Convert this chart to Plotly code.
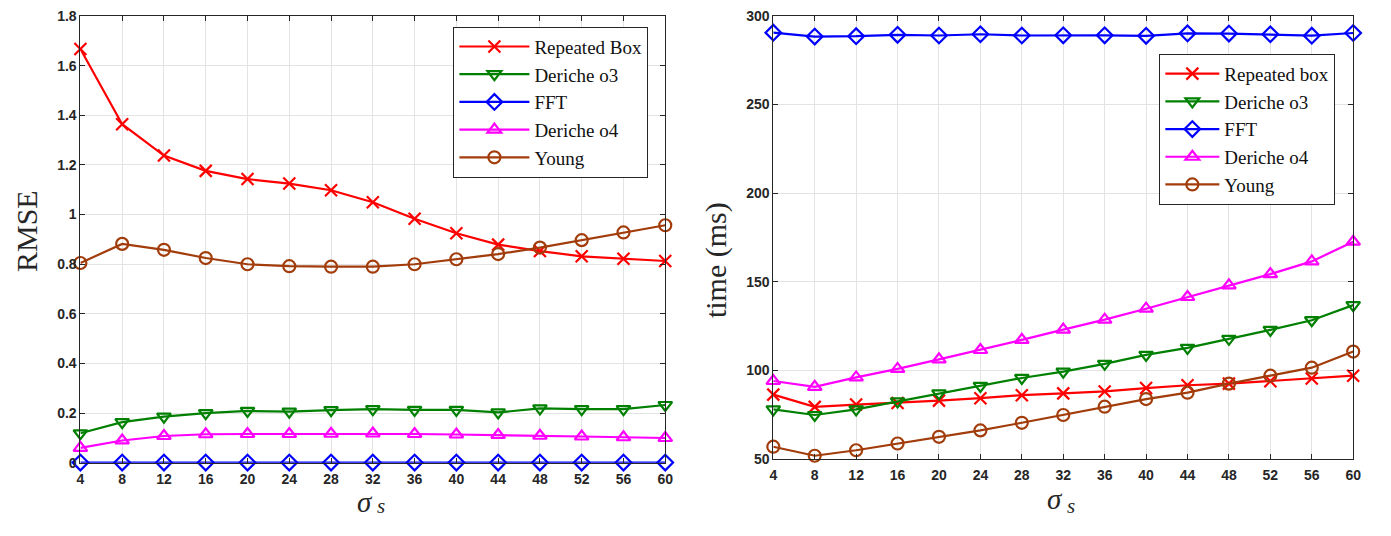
import plotly.graph_objects as go

sigma = [4, 8, 12, 16, 20, 24, 28, 32, 36, 40, 44, 48, 52, 56, 60]

# RMSE (left)
rmse_box = [1.667, 1.364, 1.238, 1.176, 1.143, 1.125, 1.098, 1.050, 0.983, 0.925, 0.879, 0.853, 0.832, 0.822, 0.813]
rmse_d3 = [0.119, 0.164, 0.186, 0.200, 0.209, 0.206, 0.212, 0.216, 0.213, 0.213, 0.203, 0.219, 0.216, 0.216, 0.233]
rmse_fft = [0.001] * 15
rmse_d4 = [0.060, 0.090, 0.108, 0.115, 0.116, 0.116, 0.117, 0.118, 0.116, 0.114, 0.112, 0.109, 0.106, 0.103, 0.100]
rmse_young = [0.805, 0.882, 0.858, 0.825, 0.800, 0.792, 0.790, 0.790, 0.800, 0.820, 0.841, 0.867, 0.897, 0.928, 0.957]

# time in ms (right)
t_box = [86.3, 79.4, 80.7, 81.6, 82.9, 84.3, 86.0, 87.0, 88.1, 90.0, 91.6, 92.5, 93.9, 95.4, 97.0]
t_d3 = [78.0, 74.8, 78.0, 82.5, 87.0, 91.2, 95.7, 99.3, 103.7, 108.7, 112.7, 117.8, 122.8, 128.3, 136.8]
t_fft = [290.6, 288.4, 288.6, 289.4, 289.0, 289.7, 289.0, 289.1, 289.1, 288.8, 290.2, 290.1, 289.7, 288.9, 290.4]
t_d4 = [94.0, 90.7, 96.0, 100.8, 106.2, 111.5, 117.2, 123.0, 128.6, 134.8, 141.4, 148.0, 154.3, 161.5, 172.6]
t_young = [56.9, 51.8, 54.9, 58.7, 62.5, 66.1, 70.4, 74.8, 79.5, 83.8, 87.4, 92.5, 97.0, 101.5, 110.6]

left_names = ["Repeated Box", "Deriche o3", "FFT", "Deriche o4", "Young"]
right_names = ["Repeated box", "Deriche o3", "FFT", "Deriche o4", "Young"]
left_yticks = [0, 0.2, 0.4, 0.6, 0.8, 1, 1.2, 1.4, 1.6, 1.8]
left_yticktext = ["0", "0.2", "0.4", "0.6", "0.8", "1", "1.2", "1.4", "1.6", "1.8"]
right_yticks = [50, 100, 150, 200, 250, 300]

colors = ["#ff0000", "#008000", "#0000ff", "#ff00ff", "#a23c0b"]
symbols = ["x-thin-open", "triangle-down-open", "diamond-open", "triangle-up-open", "circle-open"]
sizes = [12, 12, 12, 12, 12]

# The page body keeps its default 8px margin; size the figure so the page is exactly 1391x536
W, H, OFF = 1391 - 16, 536 - 16, 8


def px(X):
    return (X - OFF) / W


def py(Y):
    return 1 - (Y - OFF) / H


fig = go.Figure()
left_series = [rmse_box, rmse_d3, rmse_fft, rmse_d4, rmse_young]
right_series = [t_box, t_d3, t_fft, t_d4, t_young]

for i in range(5):
    fig.add_trace(go.Scatter(
        x=sigma, y=left_series[i], name=left_names[i], mode="lines+markers",
        line=dict(color=colors[i], width=2.2),
        marker=dict(symbol=symbols[i], size=sizes[i], color=colors[i], line=dict(color=colors[i], width=2.2)),
        xaxis="x", yaxis="y", legend="legend", cliponaxis=False))
for i in range(5):
    fig.add_trace(go.Scatter(
        x=sigma, y=right_series[i], name=right_names[i], mode="lines+markers",
        line=dict(color=colors[i], width=2.2),
        marker=dict(symbol=symbols[i], size=sizes[i], color=colors[i], line=dict(color=colors[i], width=2.2)),
        xaxis="x2", yaxis="y2", legend="legend2", cliponaxis=False))

axis_common = dict(
    showgrid=True, gridcolor="#e3e3e3", gridwidth=1,
    showline=True, linecolor="#262626", linewidth=1, mirror="ticks",
    ticks="inside", ticklen=5, tickcolor="#262626",
    tickfont=dict(family="Liberation Sans, Arial", size=14, color="#262626", weight="bold"),
    zeroline=False, ticklabeloverflow="allow",
)

legend_font = dict(family="Liberation Serif, DejaVu Serif", size=19, color="#111111")

fig.update_layout(
    width=W, height=H, autosize=False,
    margin=dict(l=0, r=0, t=0, b=0),
    plot_bgcolor="white", paper_bgcolor="white",
    xaxis=dict(domain=[px(77), px(667)], range=[4, 60], tickvals=sigma, anchor="y",
               ticklabelstandoff=3, **axis_common),
    yaxis=dict(domain=[py(469), 1], range=[0, 1.8], tickvals=left_yticks,
               ticktext=left_yticktext, anchor="x", **axis_common),
    xaxis2=dict(domain=[px(776), px(1361)], range=[4, 60], tickvals=sigma, anchor="y2",
                ticklabelstandoff=3, **axis_common),
    yaxis2=dict(domain=[py(465), 1], range=[50, 300], tickvals=right_yticks, anchor="x2", **axis_common),
    legend=dict(x=px(650), y=py(19), xanchor="right", yanchor="top",
                bgcolor="white", bordercolor="#262626", borderwidth=1,
                font=legend_font, tracegroupgap=0, itemwidth=70),
    legend2=dict(x=px(1343), y=py(47), xanchor="right", yanchor="top",
                 bgcolor="white", bordercolor="#262626", borderwidth=1,
                 font=legend_font, tracegroupgap=0, itemwidth=54),
    showlegend=True,
)

label_font = dict(family="Liberation Serif, DejaVu Serif", size=30, color="#262626")
sig_font = dict(family="Liberation Serif, DejaVu Serif", size=29, color="#262626")
sub_font = dict(family="Liberation Serif, DejaVu Serif", size=21, color="#262626")
fig.add_annotation(text="RMSE", x=px(22), y=py(230), xref="paper", yref="paper",
                   showarrow=False, textangle=-90, xanchor="center", yanchor="middle", font=label_font)
fig.add_annotation(text="time (ms)", x=px(718), y=py(260), xref="paper", yref="paper",
                   showarrow=False, textangle=-90, xanchor="center", yanchor="middle", font=label_font)
# sigma_s x-axis labels (sigma plus a lowered small s)
fig.add_annotation(text="<i>σ</i>", x=px(364), y=py(528), xref="paper", yref="paper",
                   showarrow=False, xanchor="center", yanchor="bottom", font=sig_font)
fig.add_annotation(text="<i>s</i>", x=px(380), y=py(528), xref="paper", yref="paper",
                   showarrow=False, xanchor="center", yanchor="bottom", font=sub_font)
fig.add_annotation(text="<i>σ</i>", x=px(1060), y=py(525), xref="paper", yref="paper",
                   showarrow=False, xanchor="center", yanchor="bottom", font=sig_font)
fig.add_annotation(text="<i>s</i>", x=px(1076), y=py(528), xref="paper", yref="paper",
                   showarrow=False, xanchor="center", yanchor="bottom", font=sub_font)

fig.write_html("out.html", config={"displayModeBar": False, "responsive": False})
